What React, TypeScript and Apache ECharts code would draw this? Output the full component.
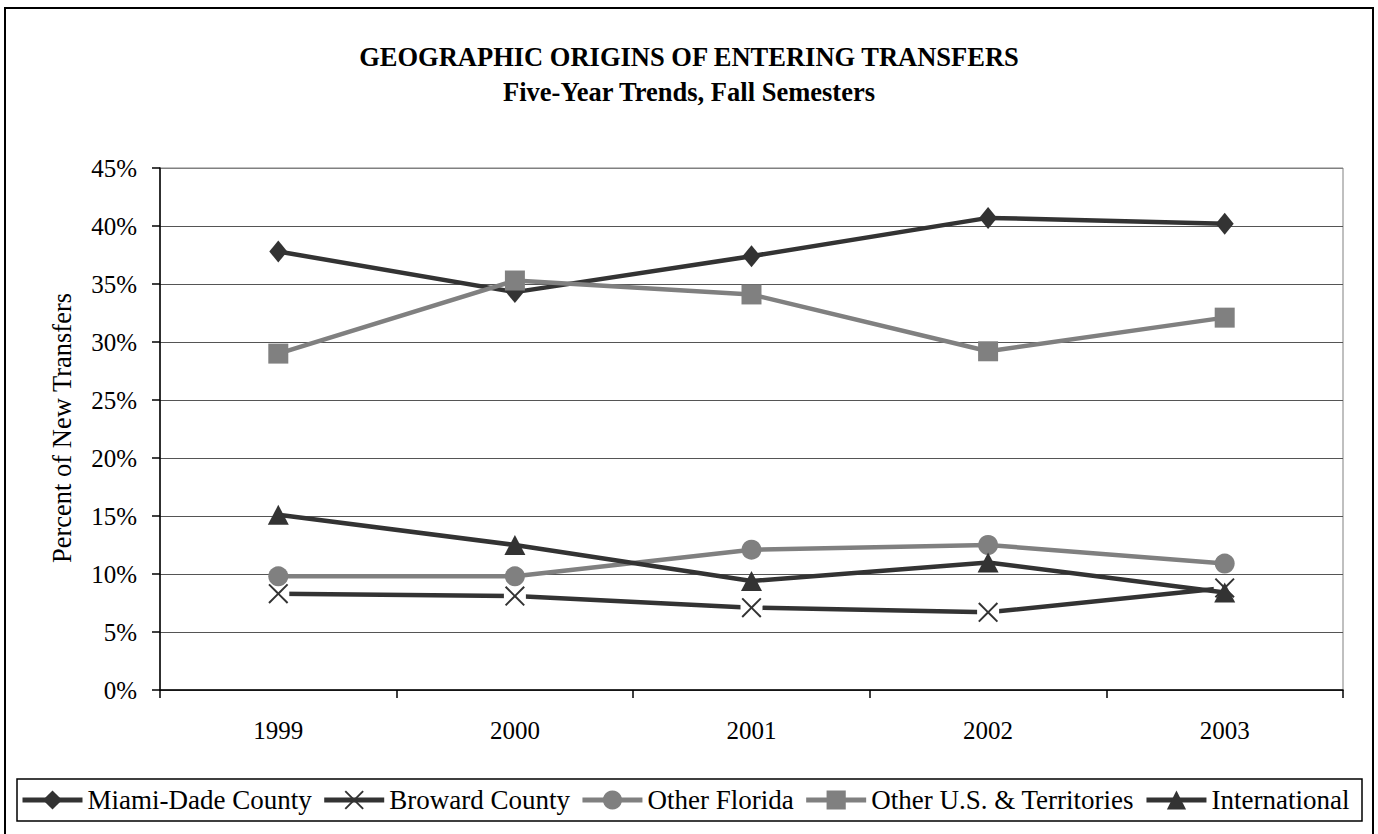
import React, { useEffect, useRef } from 'react';
import * as echarts from 'echarts';

const years = ['1999', '2000', '2001', '2002', '2003'];
const miamiDade = [37.8, 34.3, 37.4, 40.7, 40.2];
const broward = [8.3, 8.1, 7.1, 6.7, 8.8];
const otherFlorida = [9.8, 9.8, 12.1, 12.5, 10.9];
const otherUS = [29.0, 35.3, 34.1, 29.2, 32.1];
const international = [15.1, 12.5, 9.4, 11.0, 8.4];
const seriesNames = ['Miami-Dade County', 'Broward County', 'Other Florida', 'Other U.S. & Territories', 'International'];

const FONT = "'Liberation Serif', 'Times New Roman', serif";
const DARK = '#333333';
const GRAY = '#808080';
const LW = 4.5;
const X_PATH = 'path://M0,1.4L1.4,0L10,8.6L18.6,0L20,1.4L11.4,10L20,18.6L18.6,20L10,11.4L1.4,20L0,18.6L8.6,10Z';

export default function App() {
  const ref = useRef<HTMLDivElement>(null);
  useEffect(() => {
    const chart = echarts.init(ref.current!, null, { renderer: 'svg' });
    const titleStyle = { fontSize: 26.5, fontWeight: 'bold', fontFamily: FONT, color: '#000', lineHeight: 30 };
    const option: any = {
      animation: false,
      backgroundColor: '#fff',
      title: [
        { text: 'GEOGRAPHIC ORIGINS OF ENTERING TRANSFERS', left: 'center', top: 42, padding: 0, textStyle: titleStyle },
        { text: 'Five-Year Trends, Fall Semesters', left: 'center', top: 77, padding: 0, textStyle: titleStyle },
      ],
      graphic: [
        { type: 'rect', z: 0, shape: { x: 5, y: 8, width: 1368, height: 840 }, style: { fill: 'none', stroke: '#000', lineWidth: 2 } },
        { type: 'rect', z: 0, shape: { x: 17, y: 779, width: 1345, height: 42 }, style: { fill: 'none', stroke: '#000', lineWidth: 1.5 } },
        {
          type: 'text', x: 62, y: 428, rotation: Math.PI / 2,
          style: { text: 'Percent of New Transfers', fontSize: 26.5, fontFamily: FONT, fill: '#000', align: 'center', verticalAlign: 'middle' },
        },
      ],
      legend: {
        data: seriesNames,
        left: 20,
        top: 786,
        padding: 0,
        itemWidth: 60,
        itemHeight: 24,
        itemGap: 10,
        lineStyle: { width: 5 },
        textStyle: { fontSize: 27, fontFamily: FONT, color: '#000', lineHeight: 28 },
      },
      grid: { left: 160, right: 35, top: 168, bottom: 144, show: true, borderColor: GRAY, borderWidth: 1 },
      xAxis: {
        type: 'category',
        data: years,
        boundaryGap: true,
        axisLine: { show: true, lineStyle: { color: '#000', width: 1.5 } },
        axisTick: { show: true, length: 8, lineStyle: { color: '#000', width: 1.5 } },
        axisLabel: { fontSize: 25, fontFamily: FONT, color: '#000', margin: 28 },
        splitLine: { show: false },
      },
      yAxis: {
        type: 'value',
        min: 0,
        max: 45,
        interval: 5,
        axisLine: { show: true, lineStyle: { color: '#000', width: 1.5 } },
        axisTick: { show: true, length: 8, lineStyle: { color: '#000', width: 1.5 } },
        axisLabel: { fontSize: 25, fontFamily: FONT, color: '#000', margin: 23, formatter: '{value}%' },
        splitLine: { show: true, lineStyle: { color: ['#555', '#555', '#555', '#555', '#555', '#555', '#555', '#555', '#555', GRAY], width: 1 } },
      },
      series: [
        {
          name: 'Miami-Dade County', type: 'line', data: miamiDade, z: 2,
          symbol: 'diamond', symbolSize: [18, 22],
          lineStyle: { color: DARK, width: LW }, itemStyle: { color: DARK },
        },
        {
          name: 'Broward County', type: 'line', data: broward, z: 3,
          symbol: X_PATH, symbolSize: 20,
          lineStyle: { color: DARK, width: LW }, itemStyle: { color: DARK },
        },
        {
          name: 'broward-bg', type: 'line', data: broward, z: 4, silent: true,
          symbol: 'rect', symbolSize: 22, showSymbol: true,
          lineStyle: { opacity: 0, width: 0 }, itemStyle: { color: '#fff' },
        },
        {
          name: 'broward-x', type: 'line', data: broward, z: 5, silent: true,
          symbol: X_PATH, symbolSize: 20, showSymbol: true,
          lineStyle: { opacity: 0, width: 0 }, itemStyle: { color: DARK },
        },
        {
          name: 'Other Florida', type: 'line', data: otherFlorida, z: 6,
          symbol: 'circle', symbolSize: 20,
          lineStyle: { color: GRAY, width: LW }, itemStyle: { color: GRAY },
        },
        {
          name: 'Other U.S. & Territories', type: 'line', data: otherUS, z: 7,
          symbol: 'rect', symbolSize: 20,
          lineStyle: { color: GRAY, width: LW }, itemStyle: { color: GRAY },
        },
        {
          name: 'International', type: 'line', data: international, z: 8,
          symbol: 'triangle', symbolSize: [21, 20],
          lineStyle: { color: DARK, width: LW }, itemStyle: { color: DARK },
        },
      ],
    };
    chart.setOption(option);
    return () => chart.dispose();
  }, []);
  return <div ref={ref} style={{ position: 'absolute', left: 0, top: 0, width: 1378, height: 834 }} />;
}
